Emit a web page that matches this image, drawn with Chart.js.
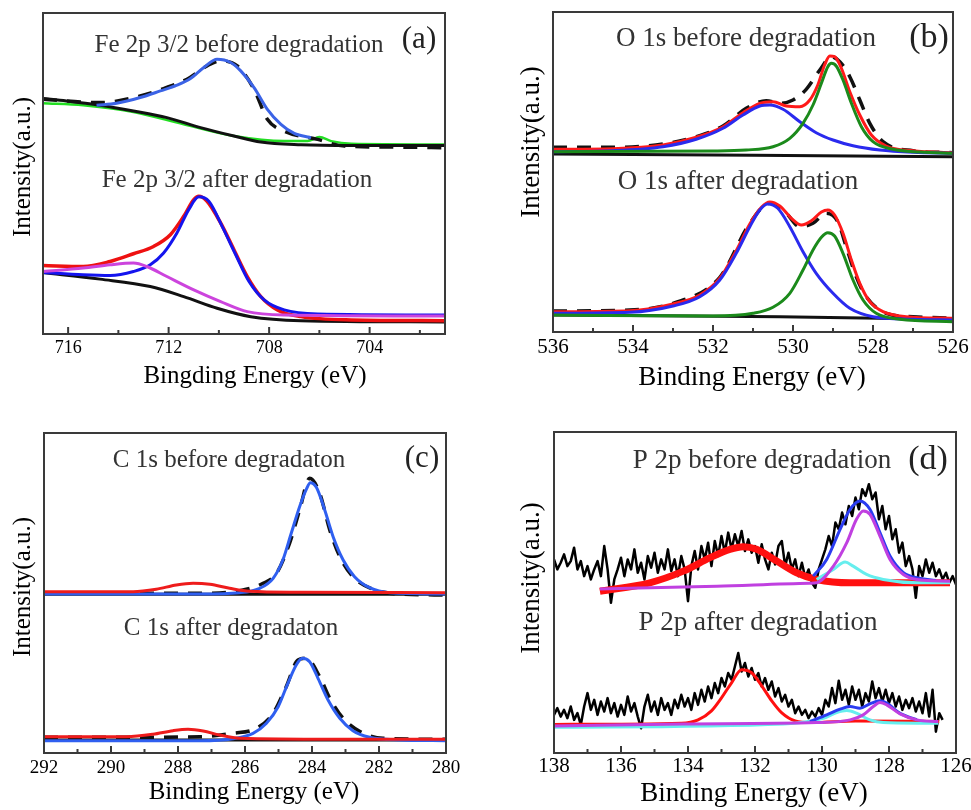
<!DOCTYPE html>
<html><head><meta charset="utf-8">
<script src="https://cdn.jsdelivr.net/npm/chart.js@4/dist/chart.umd.min.js"></script>
<style>
html,body{margin:0;padding:0;background:#fff}
body{width:971px;height:810px;position:relative;overflow:hidden}
canvas{position:absolute}
</style></head><body>
<canvas id="pa" width="480" height="400" style="left:0px;top:0px"></canvas>
<canvas id="pb" width="491" height="400" style="left:480px;top:0px"></canvas>
<canvas id="pc" width="480" height="410" style="left:0px;top:400px"></canvas>
<canvas id="pd" width="496" height="410" style="left:475px;top:400px"></canvas>
<script>
// ---------------- Panel (a) Fe 2p 3/2 ----------------
const aTickLabels = [716, 712, 708, 704];
const aMinorTicks = [714, 710, 706, 702];
const aBefDataX = [717, 714.73, 713.13, 712.2, 711.27, 710.47, 709.93, 709.27, 708.6, 708.07, 707.4, 706.07, 705.0, 702.73, 701];
const aBefDataY = [234, 230.7, 237.3, 244.7, 254, 267.3, 272.3, 267.3, 244, 214, 202.3, 194, 187.3, 186.3, 185.7];
const aBefFitX = [714.87, 714.07, 713.13, 712.33, 711.67, 711.13, 710.6, 710.07, 709.53, 709.13, 708.6, 708.07, 707.53, 707.0, 706.33];
const aBefFitY = [228, 230, 235.7, 242.3, 248, 254.7, 265.7, 274, 270.7, 262.3, 245.7, 224, 209, 200, 195.7];
const aBefBgX = [717, 716.07, 714.73, 713.4, 712.07, 710.73, 709.4, 708.33, 706.73, 704.73, 701];
const aBefBgY = [234.7, 232.3, 228, 222.3, 215.7, 205.7, 197.3, 191.3, 188.7, 188, 188];
const aBefGreenX = [717, 715.4, 713.4, 711.4, 709.4, 707.4, 706.47, 706.0, 705.53, 704.73, 701];
const aBefGreenY = [230, 228, 221.3, 209, 197.3, 192.3, 192.3, 196.3, 192.3, 189.7, 189];
const aAftEnvX = [717, 715.4, 714.33, 713.4, 712.6, 711.93, 711.4, 711.0, 710.8, 710.47, 709.93, 709.4, 708.87, 708.33, 707.67, 706.73, 704.73, 701];
const aAftEnvY = [68.3, 67.3, 72.3, 80, 87.3, 99, 117.3, 134, 137.3, 132.3, 110.7, 84, 57.3, 37.3, 24, 17.3, 14, 13.3];
const aAftFeX = [717, 715.4, 714.33, 713.4, 712.73, 712.2, 711.67, 711.2, 710.8, 710.4, 709.87, 709.33, 708.8, 708.2, 707.4, 706.07, 701];
const aAftFeY = [61.3, 59, 58.3, 62.3, 69, 80.7, 100.7, 124, 136.7, 132.3, 107.3, 79, 52.3, 34, 24, 20, 19];
const aAftSatX = [717, 715.4, 714.33, 713.4, 712.87, 712.07, 711.0, 709.93, 708.87, 707.4, 701];
const aAftSatY = [62.3, 65.7, 69, 70.7, 67.3, 57.3, 44, 32.3, 22.3, 19, 18];
const aAftBgX = [717, 714.73, 712.73, 711.4, 710.07, 708.73, 706.73, 701];
const aAftBgY = [61.3, 54.7, 47.3, 37.3, 25.7, 17.3, 13.3, 12];

// ---------------- Panel (b) O 1s ----------------
const bTickLabels = [536, 534, 532, 530, 528, 526];
const bMinorTicks = [535, 533, 531, 529, 527];
const bBefDataX = [536, 534.5, 533.25, 532.42, 531.75, 531.17, 530.67, 530.33, 530.0, 529.67, 529.33, 529.04, 528.83, 528.58, 528.33, 528.08, 527.75, 527.0, 526];
const bBefDataY = [184.7, 184.7, 188, 195.3, 206, 223.7, 231.3, 228.7, 232, 242.7, 262, 275.3, 270.3, 255.3, 232, 208.7, 190.3, 181.3, 179.3];
const bBefEnvX = [536, 534.5, 533.25, 532.42, 531.75, 531.25, 530.83, 530.5, 530.17, 529.83, 529.58, 529.38, 529.21, 529.08, 528.96, 528.79, 528.58, 528.33, 528.04, 527.67, 527.0, 526];
const bBefEnvY = [182.7, 183.3, 187, 194.7, 205.3, 219.3, 228.7, 230.3, 226, 225.3, 232, 247, 267, 276, 275.3, 263.7, 240.3, 217, 197, 186, 181.3, 179.3];
const bBefO2X = [536, 534.5, 533.25, 532.42, 531.75, 531.25, 530.83, 530.58, 530.25, 529.83, 529.42, 529.0, 528.5, 527.83, 527.0, 526];
const bBefO2Y = [180.3, 181.3, 185.3, 192.7, 203.7, 217, 226, 227, 222.7, 210.3, 199.3, 192, 186.3, 182, 179.7, 178.7];
const bBefO1X = [536, 532, 531.17, 530.5, 530.08, 529.75, 529.5, 529.29, 529.13, 529.04, 528.92, 528.75, 528.54, 528.29, 528.0, 527.5, 526.83, 526];
const bBefO1Y = [180.3, 181, 182, 185.3, 193.7, 208.7, 227, 248.7, 265.3, 268.7, 266, 252, 228.7, 205.3, 190.3, 182.7, 180, 178.7];
const bBefBgX = [536, 526];
const bBefBgY = [178, 175.3];
const bAftDataX = [536, 534.08, 533.0, 531.83, 531.08, 530.58, 530.17, 529.83, 529.5, 529.17, 528.88, 528.67, 528.42, 528.17, 527.67, 527.0, 526];
const bAftDataY = [21, 22, 28.7, 54.7, 108.7, 128.7, 118.7, 105.3, 108.7, 118.7, 110.3, 85.3, 55.3, 35.3, 18.7, 15.3, 13.7];
const bAftEnvX = [536, 534.08, 533.0, 532.33, 531.83, 531.42, 531.08, 530.79, 530.58, 530.33, 530.04, 529.79, 529.54, 529.29, 529.13, 528.96, 528.75, 528.54, 528.33, 528.08, 527.75, 527.17, 526];
const bAftEnvY = [20.3, 21.3, 28, 37, 53.7, 81.3, 108, 124.7, 130, 126, 113.7, 107, 111.3, 120, 122, 117, 98.7, 72, 48.7, 30.3, 20.3, 15.3, 13.7];
const bAftO2X = [536, 534.08, 533.0, 532.33, 531.83, 531.42, 531.08, 530.83, 530.63, 530.38, 530.08, 529.75, 529.42, 529.0, 528.58, 528.0, 527.0, 526];
const bAftO2Y = [18.7, 19.7, 26, 35.3, 52, 78.7, 105.3, 122, 128, 123.7, 105.3, 80.3, 58.7, 38.7, 23.7, 15.3, 12.7, 12];
const bAftO1X = [536, 532, 531, 530.5, 530.08, 529.75, 529.5, 529.29, 529.13, 528.96, 528.75, 528.5, 528.25, 527.92, 527.33, 526];
const bAftO1Y = [17, 16, 18.7, 24.7, 38.7, 62, 82, 94.7, 99.3, 96, 78.7, 52, 32, 18.7, 12.7, 10.3];
const bAftBgX = [536, 530.33, 526];
const bAftBgY = [17, 15.3, 12.7];

// ---------------- Panel (c) C 1s ----------------
const cTickLabels = [292, 290, 288, 286, 284, 282, 280];
const cMinorTicks = [291, 289, 287, 285, 283, 281];
const cBefDataX = [292, 289.34, 287.35, 286.16, 285.46, 285.06, 284.67, 284.37, 284.07, 283.77, 283.47, 283.17, 282.78, 282.18, 281.38, 280];
const cBefDataY = [160.3, 159.7, 159.7, 162.3, 169.7, 179.7, 209.7, 243, 274.7, 259.7, 223, 196.3, 176.3, 163.7, 159, 158];
const cBefC1X = [292, 287.35, 286.16, 285.56, 285.16, 284.87, 284.62, 284.37, 284.17, 284.05, 283.87, 283.62, 283.37, 283.07, 282.73, 282.28, 281.68, 280];
const cBefC1Y = [159, 159, 160.3, 164.7, 174.7, 193, 219.7, 246.3, 263.7, 270.3, 265.7, 243, 216.3, 193, 176.3, 165.3, 160.3, 159];
const cBefC2X = [292, 289.34, 288.65, 288.05, 287.55, 287.05, 286.46, 285.86, 284.37, 280];
const cBefC2Y = [161.3, 161.3, 163.7, 168, 169.7, 168.7, 164.7, 161.7, 160.7, 160.3];
const cBefBgX = [292, 280];
const cBefBgY = [158.7, 158.7];
const cAftDataX = [292, 289.34, 287.35, 286.36, 285.66, 285.16, 284.77, 284.42, 284.17, 283.77, 283.47, 283.07, 282.58, 281.88, 280];
const cAftDataY = [15.7, 15.7, 16.3, 19.7, 24.7, 39.7, 66.3, 93, 94.7, 76.3, 54.7, 34.7, 21.7, 14.7, 13.7];
const cAftC1X = [292, 287.35, 286.36, 285.76, 285.36, 285.01, 284.72, 284.47, 284.29, 284.07, 283.82, 283.52, 283.17, 282.78, 282.28, 281.38, 280];
const cAftC1Y = [12.3, 12.3, 14.3, 19.7, 29.7, 46.3, 69.7, 88, 94.7, 91.3, 74.7, 53, 34.7, 22.3, 15.7, 13, 12.3];
const cAftC2X = [292, 289.54, 288.75, 288.15, 287.7, 287.25, 286.76, 286.16, 283.37, 280];
const cAftC2Y = [16.3, 16.3, 18.7, 22.3, 23.7, 22, 18, 14.7, 13.7, 13.7];
const cAftBgX = [292, 280];
const cAftBgY = [13, 13];

// ---------------- Panel (d) P 2p ----------------
const dTickLabels = [138, 136, 134, 132, 130, 128, 126];
const dMinorTicks = [137, 135, 133, 131, 129, 127];
const dBefDataX = [138.1,138.0,137.9,137.8,137.7,137.6,137.5,137.4,137.3,137.2,
137.1,137.0,136.9,136.8,136.7,136.6,136.5,136.4,136.3,136.2,
136.1,136.0,135.9,135.8,135.7,135.6,135.5,135.4,135.3,135.2,
135.1,135.0,134.9,134.8,134.7,134.6,134.5,134.4,134.3,134.2,
134.1,134.0,133.9,133.8,133.7,133.6,133.5,133.4,133.3,133.2,
133.1,133.0,132.9,132.8,132.7,132.6,132.5,132.4,132.3,132.2,
132.1,132.0,131.9,131.8,131.7,131.6,131.5,131.4,131.3,131.2,
131.1,131.0,130.9,130.8,130.7,130.6,130.5,130.4,130.3,130.2,
130.1,130.0,129.9,129.8,129.7,129.6,129.5,129.4,129.3,129.2,
129.1,129.0,128.9,128.8,128.7,128.6,128.5,128.4,128.3,128.2,
128.1,128.0,127.9,127.8,127.7,127.6,127.5,127.4,127.3,127.2,
127.1,127.0,126.9,126.8,126.7,126.6,126.5,126.4,126.3,126.2,
126.1,126.0];
const dBefDataY = [186.3,193,183,189.7,198,186.3,191.3,204.7,183,191.3,
176.3,186.3,173,183,191.3,176.3,206.3,183,149.7,173,
183,194.7,176.3,193,183,203,179.7,189.7,173,196.3,
184.7,199.7,179.7,193,183,203,181.3,193,176.3,196.3,
183,151.3,186.3,201.3,183,206.3,193,209.7,186.3,211.3,
196.3,216.3,199.7,219.7,203,218,206.3,221.3,201.3,213,
199.7,206.3,189.7,208,193,183,199.7,188,206.3,211.3,
186.3,199.7,183,193,176.3,189.7,174.7,183,169.7,164.7,
183,193,203,216.3,206.3,229.7,223,239.7,228,246.3,
236.3,254.7,243,263,256.3,268,253,259.7,233,246.3,
223,236.3,213,223,199.7,209.7,186.3,196.3,183,154.7,
186.3,176.3,193,179.7,189.7,176.3,183,173,179.7,169.7,
176.3,168];
const dBefP1X = [136.63, 135.14, 134.14, 133.34, 132.75, 132.35, 131.95, 131.35, 130.76, 130.16, 129.16, 126.18];
const dBefP1Y = [161.3, 169.7, 181.3, 194.7, 203, 205.7, 203, 191.3, 179.7, 173, 169.7, 169.7];
const dBefP2X = [136.63, 133.14, 130.36, 130.16, 129.66, 129.26, 128.97, 128.77, 128.57, 128.27, 127.97, 127.57, 127.17, 126.18];
const dBefP2Y = [163.5, 166.3, 169.3, 169.7, 186.3, 209.7, 233, 241.3, 238, 216.3, 193, 178, 173, 171.3];
const dBefSumX = [130.26, 129.86, 129.46, 129.16, 128.87, 128.57, 128.27, 127.97, 127.57, 127.17, 126.6];
const dBefSumY = [176.3, 193, 223, 243, 251.3, 243, 219.7, 196.3, 179.7, 174.7, 172];
const dBefP3X = [130.16, 129.66, 129.31, 129.07, 128.67, 128.17, 127.17, 126.18];
const dBefP3Y = [173, 183, 190.3, 186.3, 178, 173, 169.7, 169.7];
const dAftDataX = [138.1,138.0,137.9,137.8,137.7,137.6,137.5,137.4,137.3,137.2,
137.1,137.0,136.9,136.8,136.7,136.6,136.5,136.4,136.3,136.2,
136.1,136.0,135.9,135.8,135.7,135.6,135.5,135.4,135.3,135.2,
135.1,135.0,134.9,134.8,134.7,134.6,134.5,134.4,134.3,134.2,
134.1,134.0,133.9,133.8,133.7,133.6,133.5,133.4,133.3,133.2,
133.1,133.0,132.9,132.8,132.7,132.6,132.5,132.4,132.3,132.2,
132.1,132.0,131.9,131.8,131.7,131.6,131.5,131.4,131.3,131.2,
131.1,131.0,130.9,130.8,130.7,130.6,130.5,130.4,130.3,130.2,
130.1,130.0,129.9,129.8,129.7,129.6,129.5,129.4,129.3,129.2,
129.1,129.0,128.9,128.8,128.7,128.6,128.5,128.4,128.3,128.2,
128.1,128.0,127.9,127.8,127.7,127.6,127.5,127.4,127.3,127.2,
127.1,127.0,126.9,126.8,126.7,126.6,126.5,126.4];
const dAftDataY = [41.3,38,44.7,36.3,43,34.7,46.3,33,39.7,28,
46.3,59.7,43,53,38,51.3,41.3,54.7,39.7,49.7,
36.3,48,38,56.3,41.3,49.7,36.3,24.7,46.3,58,
41.3,51.3,38,54.7,43,49.7,38,53,44.7,58,
46.3,54.7,43,59.7,48,63,51.3,66.3,54.7,69.7,
59.7,74.7,66.3,79.7,73,86.3,99.7,81.3,89.7,76.3,
84.7,73,79.7,66.3,74.7,63,71.3,56.3,64.7,51.3,
58,46.3,53,39.7,46.3,38,43,34.7,41.3,36.3,
44.7,38,53,46.3,64.7,49.7,72,53,63,48,
66.3,53,63,46.3,59.7,51.3,71.3,54.7,64.7,51.3,
63,49.7,59.7,46.3,56.3,43,53,44.7,54.7,41.3,
51.3,39.7,59.7,36.3,63,21.3,39.7,33];
const dAftP1X = [138.0, 134.2, 133.7, 133.3, 133.0, 132.7, 132.4, 132.1, 131.8, 131.5, 131.2, 130.8, 130.3, 129.0, 126.5];
const dAftP1Y = [28.5, 29.7, 33, 42, 55, 70, 83, 80, 67, 52, 40, 32, 30.3, 32, 31.5];
const dAftP2X = [138.0, 134.14, 130.16, 129.16, 128.77, 128.47, 128.27, 128.07, 127.67, 127.17, 126.53];
const dAftP2Y = [27, 29, 30.3, 33, 38, 46.3, 50.3, 48, 39, 33, 31.3];
const dAftSumX = [130.36, 129.86, 129.46, 129.16, 128.87, 128.57, 128.27, 128.07, 127.67, 127.17];
const dAftSumY = [31.3, 38, 43.7, 46.3, 44.7, 49, 52, 49.7, 39.5, 33.2];
const dAftP3X = [138.0, 131.15, 129.96, 129.56, 129.26, 128.97, 128.57, 128.17, 127.17, 126.53];
const dAftP3Y = [25.7, 29, 34.7, 40.3, 42.3, 39.7, 33, 30.3, 29.7, 29.7];

// ---------------- helpers ----------------
const SERIF = '"Liberation Serif", "Times New Roman", Times, serif';
const FRAME = '#3a3a3a';
const DASH = [14, 10];
function smooth(xs, ys, color, width, dash) {
  return { data: xs.map((x, i) => ({ x: x, y: ys[i] })), borderColor: color, borderWidth: width,
    borderDash: dash || [], pointRadius: 0, fill: false, cubicInterpolationMode: 'monotone',
    borderCapStyle: 'butt', borderJoinStyle: 'round' };
}
function raw(xs, ys, color, width) {
  return { data: xs.map((x, i) => ({ x: x, y: ys[i] })), borderColor: color, borderWidth: width,
    pointRadius: 0, fill: false, tension: 0, borderJoinStyle: 'round' };
}
function decoPlugin(p) {
  return {
    id: 'deco',
    afterDraw(chart) {
      const ctx = chart.ctx, a = chart.chartArea, xs = chart.scales.x;
      ctx.save();
      ctx.strokeStyle = FRAME; ctx.lineWidth = 2;
      ctx.strokeRect(a.left, a.top, a.right - a.left, a.bottom - a.top);
      ctx.beginPath();
      p.major.forEach(v => { const x = xs.getPixelForValue(v); ctx.moveTo(x, a.bottom); ctx.lineTo(x, a.bottom - 7); });
      p.minor.forEach(v => { const x = xs.getPixelForValue(v); ctx.moveTo(x, a.bottom); ctx.lineTo(x, a.bottom - 4); });
      ctx.stroke();
      ctx.textAlign = 'center'; ctx.textBaseline = 'alphabetic';
      p.texts.forEach(t => {
        ctx.font = t.size + 'px ' + SERIF; ctx.fillStyle = t.color;
        ctx.fillText(t.text, t.x - p.left, t.y - p.top);
      });
      ctx.translate(p.yTitle.x - p.left, p.yTitle.y - p.top);
      ctx.rotate(-Math.PI / 2);
      ctx.textBaseline = 'middle';
      ctx.font = p.yTitle.size + 'px ' + SERIF; ctx.fillStyle = '#000';
      ctx.fillText('Intensity(a.u.)', 0, 0);
      ctx.restore();
    }
  };
}
function orderDatasets(list) {
  const n = list.length;
  list.forEach((d, i) => { d.order = n - i; });
  return list;
}
function build(id, p, datasets) {
  const el = document.getElementById(id);
  new Chart(el, {
    type: 'line',
    data: { datasets: orderDatasets(datasets) },
    options: {
      responsive: false, animation: false, devicePixelRatio: 1, events: [],
      layout: { padding: { top: p.padTop, right: p.padRight, left: 0, bottom: 0 } },
      plugins: { legend: { display: false }, tooltip: { enabled: false }, title: { display: false } },
      scales: {
        x: {
          type: 'linear', reverse: true, min: p.xMin, max: p.xMax, position: 'bottom',
          grid: { display: false, drawTicks: false }, border: { display: false },
          ticks: { font: { family: SERIF, size: p.tickSize }, color: '#000', padding: p.tickPad,
            maxRotation: 0, autoSkip: false, includeBounds: false, callback: v => String(v) },
          afterBuildTicks: s => { s.ticks = p.major.map(v => ({ value: v })); },
          afterFit: s => { s.height = p.xHeight; s.paddingLeft = 0; s.paddingRight = 0; }
        },
        y: {
          type: 'linear', min: 0, max: 320, position: 'left',
          grid: { display: false, drawTicks: false }, border: { display: false }, ticks: { display: false },
          afterFit: s => { s.width = p.yWidth; s.paddingTop = 0; s.paddingBottom = 0; }
        }
      }
    },
    plugins: [decoPlugin(p)]
  });
}

// ---------------- panel (a) ----------------
build('pa', {
  left: 0, top: 0, yWidth: 43, padRight: 35, padTop: 13, xHeight: 66,
  xMin: 701, xMax: 717, major: aTickLabels, minor: aMinorTicks, tickSize: 18, tickPad: 3,
  yTitle: { x: 23, y: 167, size: 25 },
  texts: [
    { text: 'Fe 2p 3/2 before degradation', x: 239, y: 52, size: 25, color: '#333' },
    { text: 'Fe 2p 3/2 after degradation', x: 237, y: 187, size: 25, color: '#333' },
    { text: '(a)', x: 419, y: 48, size: 31, color: '#222' },
    { text: 'Bingding Energy (eV)', x: 255, y: 383, size: 25, color: '#000' }
  ]
}, [
  smooth(aBefGreenX, aBefGreenY, '#22dd22', 2.5),
  smooth(aBefDataX, aBefDataY, '#111', 3.5, DASH),
  smooth(aBefBgX, aBefBgY, '#111', 3),
  smooth(aBefFitX, aBefFitY, '#3b63e6', 3),
  smooth(aAftBgX, aAftBgY, '#111', 3),
  smooth(aAftEnvX, aAftEnvY, '#ee1111', 3.5),
  smooth(aAftFeX, aAftFeY, '#1414ee', 3),
  smooth(aAftSatX, aAftSatY, '#cc44dd', 3)
]);

// ---------------- panel (b) ----------------
build('pb', {
  left: 480, top: 0, yWidth: 73, padRight: 18, padTop: 12, xHeight: 68,
  xMin: 526, xMax: 536, major: bTickLabels, minor: bMinorTicks, tickSize: 21, tickPad: 3,
  yTitle: { x: 532, y: 142, size: 27 },
  texts: [
    { text: 'O 1s before degradation', x: 746, y: 46, size: 27, color: '#333' },
    { text: 'O 1s after degradation', x: 738, y: 189, size: 27, color: '#333' },
    { text: '(b)', x: 929, y: 47, size: 34, color: '#222' },
    { text: 'Binding Energy (eV)', x: 752, y: 385, size: 27, color: '#000' }
  ]
}, [
  smooth(bBefBgX, bBefBgY, '#111', 3),
  smooth(bBefDataX, bBefDataY, '#111', 3.5, DASH),
  smooth(bBefEnvX, bBefEnvY, '#ff1a1a', 3),
  smooth(bBefO2X, bBefO2Y, '#2a2aee', 3),
  smooth(bBefO1X, bBefO1Y, '#1b8a1b', 3),
  smooth(bAftBgX, bAftBgY, '#111', 3),
  smooth(bAftDataX, bAftDataY, '#111', 3.5, DASH),
  smooth(bAftEnvX, bAftEnvY, '#ff1a1a', 3),
  smooth(bAftO2X, bAftO2Y, '#2a2aee', 3),
  smooth(bAftO1X, bAftO1Y, '#1b8a1b', 3)
]);

// ---------------- panel (c) ----------------
build('pc', {
  left: 0, top: 400, yWidth: 44, padRight: 34, padTop: 33, xHeight: 57,
  xMin: 280, xMax: 292, major: cTickLabels, minor: cMinorTicks, tickSize: 19, tickPad: 4,
  yTitle: { x: 23, y: 587, size: 25 },
  texts: [
    { text: 'C 1s before degradaton', x: 229, y: 467, size: 25, color: '#333' },
    { text: 'C 1s after degradaton', x: 231, y: 635, size: 25, color: '#333' },
    { text: '(c)', x: 422, y: 467, size: 31, color: '#222' },
    { text: 'Binding Energy (eV)', x: 254, y: 799, size: 25, color: '#000' }
  ]
}, [
  smooth(cBefBgX, cBefBgY, '#111', 3),
  smooth(cBefDataX, cBefDataY, '#111', 3.5, DASH),
  smooth(cBefC1X, cBefC1Y, '#2f5ff0', 3),
  smooth(cBefC2X, cBefC2Y, '#ee1c1c', 3),
  smooth(cAftBgX, cAftBgY, '#111', 3),
  smooth(cAftDataX, cAftDataY, '#111', 3.5, DASH),
  smooth(cAftC1X, cAftC1Y, '#2f5ff0', 3),
  smooth(cAftC2X, cAftC2Y, '#ee1c1c', 3)
]);

// ---------------- panel (d) ----------------
build('pd', {
  left: 475, top: 400, yWidth: 79, padRight: 15, padTop: 32, xHeight: 57,
  xMin: 126, xMax: 138, major: dTickLabels, minor: dMinorTicks, tickSize: 21, tickPad: 1,
  yTitle: { x: 532, y: 578, size: 27 },
  texts: [
    { text: 'P 2p before degradation', x: 762, y: 468, size: 27, color: '#333' },
    { text: 'P 2p after degradation', x: 758, y: 630, size: 27, color: '#333' },
    { text: '(d)', x: 928, y: 469, size: 34, color: '#222' },
    { text: 'Binding Energy (eV)', x: 754, y: 801, size: 27, color: '#000' }
  ]
}, [
  raw(dBefDataX, dBefDataY, '#000', 2.5),
  smooth(dBefP1X, dBefP1Y, '#ff1010', 7),
  smooth(dBefP3X, dBefP3Y, '#66eeee', 3),
  smooth(dBefSumX, dBefSumY, '#2a3cf0', 3),
  smooth(dBefP2X, dBefP2Y, '#c040e0', 3),
  raw(dAftDataX, dAftDataY, '#000', 2.5),
  smooth(dAftP1X, dAftP1Y, '#ff1010', 3),
  smooth(dAftP3X, dAftP3Y, '#66eeee', 3),
  smooth(dAftSumX, dAftSumY, '#2a3cf0', 3),
  smooth(dAftP2X, dAftP2Y, '#c040e0', 3)
]);
</script>
</body></html>
